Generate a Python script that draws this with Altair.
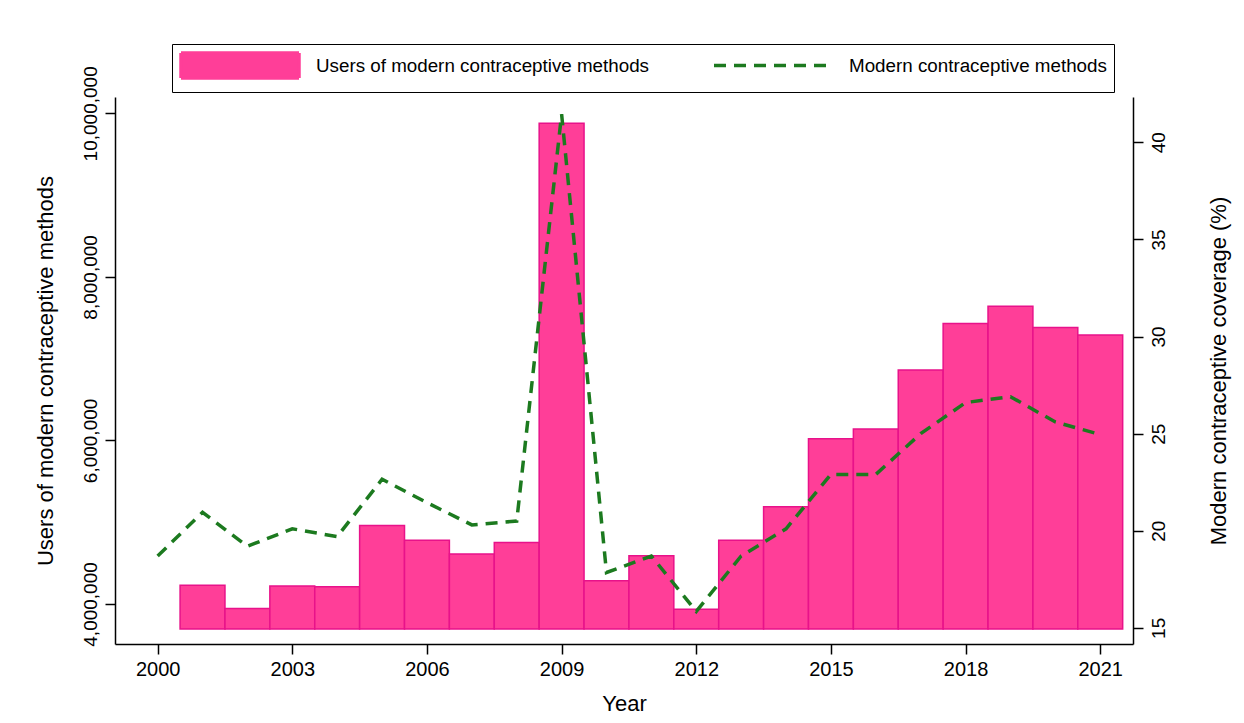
import altair as alt
import pandas as pd

# ---------------- data ----------------
years = list(range(2000, 2022))
bar_years = list(range(2001, 2022))
users = [4230000, 3945000, 4220000, 4210000, 4960000, 4780000, 4610000, 4750000,
         9880000, 4285000, 4590000, 3935000, 4780000, 5190000, 6020000, 6140000,
         6860000, 7430000, 7640000, 7380000, 7290000]
coverage = [18.7, 20.95, 19.2, 20.1, 19.7, 22.65, 21.45, 20.3, 20.5, 41.45, 17.85,
            18.7, 15.85, 18.7, 20.1, 22.9, 22.9, 25.0, 26.6, 26.9, 25.6, 24.95]
BAR_BASE = 3694000
x_ticks = [2000, 2003, 2006, 2009, 2012, 2015, 2018, 2021]
left_ticks = [4000000, 6000000, 8000000, 10000000]
right_ticks = [15, 20, 25, 30, 35, 40]
series_names = ["Users of modern contraceptive methods", "Modern contraceptive methods"]

# ---------------- styles ----------------
PINK = "#FF3E98"
DARKPINK = "#E8128A"
GREEN = "#1C7A1F"
NARROW = "Liberation Sans Narrow, Arial Narrow, Liberation Sans, sans-serif"
REG = "Liberation Sans, Arial, sans-serif"
RECT_PATH = "M-1,-1H8.44V1H-1Z"
LINE_PATH = "M-1,-1M8.44,1M-1,0H8.44"

bars_df = pd.DataFrame({"year": bar_years, "users": users})
bars_df["x0"] = bars_df["year"] - 0.5
bars_df["x1"] = bars_df["year"] + 0.5
bars_df["base"] = BAR_BASE
line_df = pd.DataFrame({"year": years, "coverage": coverage})
legend_df = pd.DataFrame({"series": series_names})

xscale = alt.Scale(domain=[1999.05, 2021.73], nice=False, zero=False)
xaxis = alt.Axis(values=x_ticks, format="d", title="Year", labelFont=REG,
                 labelFontSize=20, titleFont=NARROW, titleFontSize=22,
                 labelPadding=5, titlePadding=14, titleFontWeight="normal")

bars = alt.Chart(bars_df).mark_bar(fill=PINK, stroke=DARKPINK, strokeWidth=1.5).encode(
    x=alt.X("x0:Q", scale=xscale, axis=xaxis),
    x2="x1",
    y=alt.Y("users:Q",
            scale=alt.Scale(domain=[3510000, 10200000], nice=False, zero=False),
            axis=alt.Axis(values=left_ticks, format=",d",
                          title="Users of modern contraceptive methods",
                          labelAngle=270, labelAlign="center", labelBaseline="bottom",
                          labelFont=NARROW, labelFontSize=19, labelPadding=5,
                          titleFont=NARROW, titleFontSize=22, titlePadding=24,
                          titleFontWeight="normal")),
    y2="base",
)

line = alt.Chart(line_df).mark_line(color=GREEN, strokeWidth=3.5, strokeDash=[12, 8]).encode(
    x=alt.X("year:Q", scale=xscale, axis=xaxis),
    y=alt.Y("coverage:Q",
            scale=alt.Scale(domain=[14.17, 42.33], nice=False, zero=False),
            axis=alt.Axis(orient="right", values=right_ticks,
                          title="Modern contraceptive coverage (%)",
                          labelAngle=270, labelAlign="center", labelBaseline="top",
                          labelFont=NARROW, labelFontSize=19, labelPadding=6,
                          titleAngle=270, titleBaseline="top",
                          titleFont=NARROW, titleFontSize=22, titlePadding=40,
                          titleFontWeight="normal")),
)

legend = alt.Legend(title=None, orient="none", legendX=57, legendY=-53,
                    direction="horizontal", strokeColor="black", padding=7,
                    symbolSize=625, symbolStrokeWidth=3.5, symbolOpacity=1,
                    labelFont=NARROW, labelFontSize=18.8, labelColor="black",
                    labelOffset=108, columnPadding=57, labelLimit=600,
                    labelExpr="datum.value == '" + series_names[1] + "' ? datum.label + '\u2003\u2003' : datum.label")

legend_layer = alt.Chart(legend_df).transform_filter("false").mark_point(opacity=1).encode(
    shape=alt.Shape("series:N", scale=alt.Scale(domain=series_names, range=[RECT_PATH, LINE_PATH]),
                    legend=legend),
    fill=alt.Fill("series:N", scale=alt.Scale(domain=series_names, range=[PINK, "transparent"]),
                  legend=legend),
    stroke=alt.Stroke("series:N", scale=alt.Scale(domain=series_names, range=[PINK, GREEN]),
                      legend=legend),
    strokeDash=alt.StrokeDash("series:N", scale=alt.Scale(domain=series_names, range=[[1, 0], [12, 8]]),
                              legend=legend),
)

chart = alt.layer(bars, line, legend_layer).resolve_scale(
    y="independent"
).properties(
    width=1018, height=547,
    padding={"left": 107, "top": 89, "right": 100, "bottom": 75},
    autosize=alt.AutoSizeParams(type="none"),
).configure_view(stroke=None).configure_axis(
    domainColor="black", domainWidth=1.5, tickColor="black", tickWidth=1.5,
    tickSize=10, labelColor="black", titleColor="black", grid=False,
)

chart.save("out.html", embed_options={"renderer": "svg", "actions": False})
